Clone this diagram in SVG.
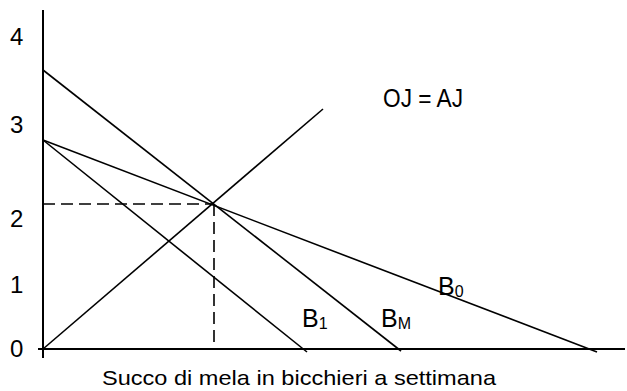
<svg xmlns="http://www.w3.org/2000/svg" width="627" height="391" viewBox="0 0 627 391">
<style>
  .ax{stroke:#000;stroke-width:2;fill:none}
  .ln{stroke:#000;stroke-width:1.6;fill:none}
  .dash{stroke:#000;stroke-width:1.6;fill:none;stroke-dasharray:12 6}
  text{font-family:"Liberation Sans",Arial,sans-serif;fill:#000}
  .d{font-size:24px}
  .t{font-size:25px}
  .s{font-size:16px}
</style>
<rect width="627" height="391" fill="#fff"/>
<g id="axes">
  <line class="ax" x1="43" y1="10" x2="43" y2="358"/>
  <line class="ax" x1="38" y1="349" x2="625" y2="349"/>
</g>
<g id="ticks">
  <text class="d" x="10" y="45">4</text>
  <text class="d" x="10" y="133">3</text>
  <text class="d" x="10" y="227">2</text>
  <text class="d" x="10" y="293">1</text>
  <text class="d" x="10" y="357">0</text>
</g>
<g id="connectors">
  <line class="ln" x1="43" y1="70" x2="401" y2="351"/>
  <line class="ln" x1="43" y1="140" x2="597" y2="352"/>
  <line class="ln" x1="43" y1="140" x2="307" y2="352"/>
  <line class="ln" x1="43" y1="349" x2="323" y2="109"/>
  <line class="dash" x1="43" y1="204" x2="214" y2="204"/>
  <line class="dash" x1="214" y1="204" x2="214" y2="349"/>
</g>
<g id="label-oj">
  <text class="t" x="383" y="107" textLength="80" lengthAdjust="spacingAndGlyphs">OJ = AJ</text>
</g>
<g id="label-b1">
  <text class="t" x="302" y="327">B<tspan class="s" dy="2">1</tspan></text>
</g>
<g id="label-bm">
  <text class="t" x="381" y="327">B<tspan class="s" dy="2">M</tspan></text>
</g>
<g id="label-b0">
  <text class="t" x="438" y="295">B<tspan class="s" dy="2">0</tspan></text>
</g>
<g id="xlabel">
  <text x="102" y="385" font-size="21" textLength="394" lengthAdjust="spacingAndGlyphs">Succo di mela in bicchieri a settimana</text>
</g>
</svg>
